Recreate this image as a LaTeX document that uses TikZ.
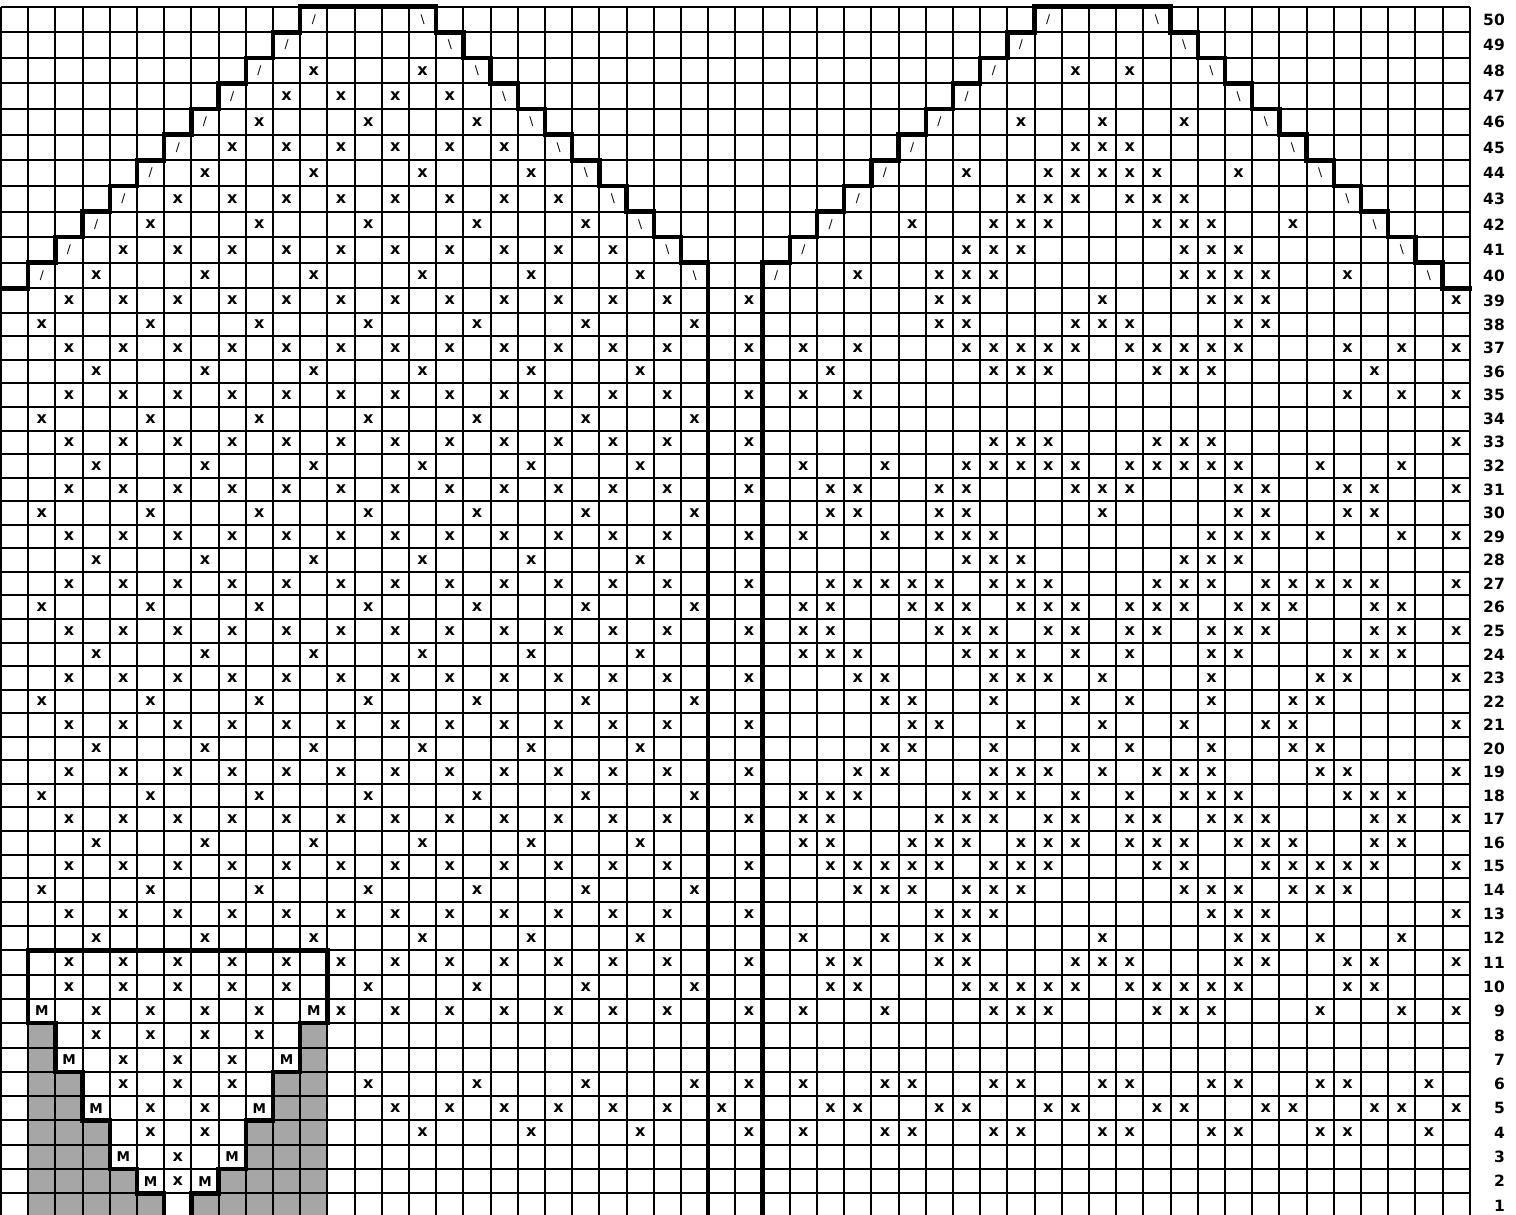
\documentclass[tikz,border=0pt]{standalone}
\usepackage{fontspec}
\setmainfont{DejaVu Sans}
\usepackage{xcolor}
\usetikzlibrary{positioning}
\definecolor{chartink}{HTML}{000000}
\definecolor{yokegray}{HTML}{A6A6A6}

% column lines and row tops of the chart, in pixels
\pgfmathdeclarefunction{colx}{1}{\pgfmathparse{1+27.2*(#1)}}
\pgfmathdeclarefunction{rowtop}{1}{%
  \pgfmathparse{(#1)>38 ? 6.7+(50-(#1))*25.6 : ((#1)>12 ? 312.7+(38-(#1))*23.56 : 901.7+(13-(#1))*24.3)}}
\newcommand\gp[2]{({colx(#1)},{rowtop(#2)})}

\tikzset{
  gridline/.style={chartink,line width=2pt},
  outline/.style={chartink,line width=4.5pt,line cap=rect,line join=miter},
  xstitch/.style={font=\fontsize{16}{16}\selectfont\bfseries,inner sep=0pt},
  mstitch/.style={font=\fontsize{13.5}{13.5}\selectfont\bfseries,inner sep=0pt},
  slant/.style={font=\fontsize{12}{12}\selectfont,inner sep=0pt},
  rowlabel/.style={font=\fontsize{15.5}{15.5}\selectfont\bfseries,inner sep=0pt,anchor=east},
}
% #1 row, #2 columns
\newcommand\xrow[2]{\foreach \cc in {#2}{%
  \node[xstitch,name=x\cc-#1] at ({colx(\cc-0.5)},{(rowtop(#1)+rowtop(#1-1))/2}) {x};}}
\newcommand\mrow[2]{\foreach \cc in {#2}{%
  \node[mstitch,name=m\cc-#1] at ({colx(\cc-0.5)},{(rowtop(#1)+rowtop(#1-1))/2}) {M};}}

\begin{document}
\begin{tikzpicture}[x=1pt,y=-1pt]
  \useasboundingbox (0,0) rectangle (1516,1215);
  \fill[white] (0,0) rectangle (1516,1215);

  % shaded yoke
  \fill[yokegray] \gp{1}{0} -- \gp{1}{8} -- \gp{2}{8} -- \gp{2}{6} -- \gp{3}{6} -- \gp{3}{4}
    -- \gp{4}{4} -- \gp{4}{2} -- \gp{5}{2} -- \gp{5}{1} -- \gp{6}{1} -- \gp{6}{0} -- cycle;
  \fill[yokegray] \gp{12}{0} -- \gp{12}{8} -- \gp{11}{8} -- \gp{11}{6} -- \gp{10}{6} -- \gp{10}{4}
    -- \gp{9}{4} -- \gp{9}{2} -- \gp{8}{2} -- \gp{8}{1} -- \gp{7}{1} -- \gp{7}{0} -- cycle;

  % grid
  \foreach \k in {0,...,54}
    \draw[gridline] \gp{\k}{50} -- \gp{\k}{0};
  \foreach \b in {0,...,50}
    \draw[gridline] \gp{0}{\b} -- \gp{54}{\b};

  % thick outlines
  \draw[outline] \gp{0}{39}
    \foreach \k in {0,...,10}{ -- \gp{\k+1}{39+\k} -- \gp{\k+1}{40+\k} }
    \foreach \k in {0,...,9}{ -- \gp{16+\k}{50-\k} -- \gp{16+\k}{49-\k} }
    -- \gp{26}{40} -- \gp{26}{0};
  \draw[outline] \gp{28}{0}
    \foreach \k in {0,...,10}{ -- \gp{28+\k}{40+\k} -- \gp{29+\k}{40+\k} }
    \foreach \k in {0,...,9}{ -- \gp{43+\k}{50-\k} -- \gp{43+\k}{49-\k} }
    -- \gp{53}{40} -- \gp{53}{39} -- \gp{54}{39};
  \draw[outline] \gp{6}{0} -- \gp{6}{1} -- \gp{5}{1} -- \gp{5}{2} -- \gp{4}{2} -- \gp{4}{4}
    -- \gp{3}{4} -- \gp{3}{6} -- \gp{2}{6} -- \gp{2}{8} -- \gp{1}{8} -- \gp{1}{11}
    -- \gp{12}{11} -- \gp{12}{8} -- \gp{11}{8} -- \gp{11}{6} -- \gp{10}{6} -- \gp{10}{4}
    -- \gp{9}{4} -- \gp{9}{2} -- \gp{8}{2} -- \gp{8}{1} -- \gp{7}{1} -- \gp{7}{0};

  % decreases along the peaks
  \foreach \r in {40,...,50}{
    \pgfmathtruncatemacro\la{\r-38}
    \pgfmathtruncatemacro\lb{66-\r}
    \pgfmathtruncatemacro\ra{\r-11}
    \pgfmathtruncatemacro\rb{93-\r}
    \pgfmathsetmacro\yc{(rowtop(\r)+rowtop(\r-1))/2}
    \node[slant,name=la\r] at ({colx(\la-0.5)},\yc) {/};
    \node[slant,name=lb\r] at ({colx(\lb-0.5)},\yc) {\textbackslash};
    \node[slant,name=ra\r] at ({colx(\ra-0.5)},\yc) {/};
    \node[slant,name=rb\r] at ({colx(\rb-0.5)},\yc) {\textbackslash};
  }

  % left panel, repeating lattice
  \foreach \r in {11,...,48}{
    \pgfmathtruncatemacro\m{mod(\r,4)}
    \ifcase\m \def\cols{4,8,...,24}\or\def\cols{3,5,...,25}\or\def\cols{2,6,...,26}\or\def\cols{3,5,...,25}\fi
    \foreach \cc in \cols {
      \pgfmathtruncatemacro\inside{(\r<40) || ((\cc>\r-38) && (\cc<66-\r))}
      \ifnum\inside=1
        \node[xstitch,name=x\cc-\r] at ({colx(\cc-0.5)},{(rowtop(\r)+rowtop(\r-1))/2}) {x};
      \fi
    }
  }
  % left panel, yoke rows
  \xrow{10}{3,5,7,9,11,14,18,22,26}
  \xrow{9}{4,6,8,10,13,15,17,19,21,23,25}  \mrow{9}{2,12}
  \xrow{8}{4,6,8,10}
  \xrow{7}{5,7,9}                          \mrow{7}{3,11}
  \xrow{6}{5,7,9,14,18,22,26}
  \xrow{5}{6,8,15,17,19,21,23,25}          \mrow{5}{4,10}
  \xrow{4}{6,8,16,20,24}
  \xrow{3}{7}                              \mrow{3}{5,9}
  \xrow{2}{7}                              \mrow{2}{6,8}

  % centre band and right panel
  \xrow{48}{40,42}
  \xrow{46}{38,41,44}
  \xrow{45}{40,41,42}
  \xrow{44}{36,39,40,41,42,43,46}
  \xrow{43}{38,39,40,42,43,44}
  \xrow{42}{34,37,38,39,43,44,45,48}
  \xrow{41}{36,37,38,44,45,46}
  \xrow{40}{32,35,36,37,44,45,46,47,50}
  \xrow{39}{28,35,36,41,45,46,47,54}
  \xrow{38}{35,36,40,41,42,46,47}
  \xrow{37}{28,30,32,36,37,38,39,40,42,43,44,45,46,50,52,54}
  \xrow{36}{31,37,38,39,43,44,45,51}
  \xrow{35}{28,30,32,50,52,54}
  \xrow{33}{28,37,38,39,43,44,45,54}
  \xrow{32}{30,33,36,37,38,39,40,42,43,44,45,46,49,52}
  \xrow{31}{28,31,32,35,36,40,41,42,46,47,50,51,54}
  \xrow{30}{31,32,35,36,41,46,47,50,51}
  \xrow{29}{28,30,33,35,36,37,45,46,47,49,52,54}
  \xrow{28}{36,37,38,44,45,46}
  \xrow{27}{28,31,32,33,34,35,37,38,39,43,44,45,47,48,49,50,51,54}
  \xrow{26}{30,31,34,35,36,38,39,40,42,43,44,46,47,48,51,52}
  \xrow{25}{28,30,31,35,36,37,39,40,42,43,45,46,47,51,52,54}
  \xrow{24}{30,31,32,36,37,38,40,42,45,46,50,51,52}
  \xrow{23}{28,32,33,37,38,39,41,45,49,50,54}
  \xrow{22}{33,34,37,40,42,45,48,49}
  \xrow{21}{28,34,35,38,41,44,47,48,54}
  \xrow{20}{33,34,37,40,42,45,48,49}
  \xrow{19}{28,32,33,37,38,39,41,43,44,45,49,50,54}
  \xrow{18}{30,31,32,36,37,38,40,42,44,45,46,50,51,52}
  \xrow{17}{28,30,31,35,36,37,39,40,42,43,45,46,47,51,52,54}
  \xrow{16}{30,31,34,35,36,38,39,40,42,43,44,46,47,48,51,52}
  \xrow{15}{28,31,32,33,34,35,37,38,39,43,44,47,48,49,50,51,54}
  \xrow{14}{32,33,34,36,37,38,44,45,46,48,49,50}
  \xrow{13}{28,35,36,37,45,46,47,54}
  \xrow{12}{30,33,35,36,41,46,47,49,52}
  \xrow{11}{28,31,32,35,36,40,41,42,46,47,50,51,54}
  \xrow{10}{31,32,36,37,38,39,40,42,43,44,45,46,50,51}
  \xrow{9}{28,30,33,37,38,39,43,44,45,49,52,54}
  \xrow{6}{28,30,33,34,37,38,41,42,45,46,49,50,53}
  \xrow{5}{27,31,32,35,36,39,40,43,44,47,48,51,52,54}
  \xrow{4}{28,30,33,34,37,38,41,42,45,46,49,50,53}

  % row numbers
  \foreach \r in {1,...,50}
    \node[rowlabel,name=row\r] at (1505,{(rowtop(\r)+rowtop(\r-1))/2}) {\r};
\end{tikzpicture}
\end{document}
